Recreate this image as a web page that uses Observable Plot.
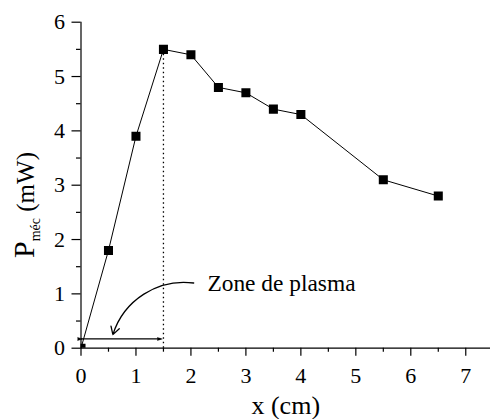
<!DOCTYPE html>
<html><head><meta charset="utf-8">
<script src="https://cdn.jsdelivr.net/npm/d3@7"></script>
<script src="https://cdn.jsdelivr.net/npm/@observablehq/plot@0.6"></script>
<style>body{margin:0;background:#fff} svg{display:block} svg text{font-family:"Liberation Serif", serif !important}</style>
</head><body><div id="chart"></div>
<script>
const xValues = [0, 0.5, 1, 1.5, 2, 2.5, 3, 3.5, 4, 5.5, 6.5];
const pValues = [0, 1.8, 3.9, 5.5, 5.4, 4.8, 4.7, 4.4, 4.3, 3.1, 2.8];
const xTicks = [0, 1, 2, 3, 4, 5, 6, 7];
const xMinorTicks = [0.5, 1.5, 2.5, 3.5, 4.5, 5.5, 6.5];
const yTicks = [0, 1, 2, 3, 4, 5, 6];
const yMinorTicks = [0.5, 1.5, 2.5, 3.5, 4.5, 5.5];
const plasmaEnd = [1.5, 5.5];
const plasmaSpan = [0, 1.45, 0.17];
const noteText = ["Zone de plasma"];
const notePos = [2.3, 1.19];
const curveArrow = [2.05, 1.2, 0.58, 0.25];

const data = xValues.map((x, i) => ({x, y: pValues[i]}));
const font = "Liberation Serif";
const fmt = d3.format("d");

const plot = Plot.plot({
  width: 491,
  height: 419,
  marginLeft: 80.5,
  marginRight: 1,
  marginTop: 21.7,
  marginBottom: 71.3,
  style: {fontFamily: font, background: "white", color: "black", overflow: "visible"},
  x: {domain: [0, 7.45]},
  y: {domain: [0, 6]},
  marks: [
    Plot.ruleY([0], {stroke: "black", strokeWidth: 1.2}),
    Plot.ruleX([0], {y1: 0, y2: 6, stroke: "black", strokeWidth: 1.2}),
    Plot.axisX(xTicks, {tickSize: 8, tickPadding: 11, fontSize: 22, fontFamily: font, tickFormat: fmt, label: null, strokeWidth: 1.2}),
    Plot.axisX(xMinorTicks, {tickSize: 4, tickFormat: () => "", label: null, strokeWidth: 1.2}),
    Plot.axisY(yTicks, {tickSize: 9, tickPadding: 7, fontSize: 22, fontFamily: font, tickFormat: fmt, label: null, strokeWidth: 1.2}),
    Plot.axisY(yMinorTicks, {tickSize: 4.5, tickFormat: () => "", label: null, strokeWidth: 1.2}),
    Plot.text(["x (cm)"], {frameAnchor: "bottom", dy: 66, fontSize: 26, fontFamily: font, fill: "black"}),
    Plot.ruleX([plasmaEnd[0]], {y1: 0, y2: plasmaEnd[1], stroke: "black", strokeWidth: 1.3, strokeDasharray: "1.5,3"}),
    Plot.line(data, {x: "x", y: "y", stroke: "black", strokeWidth: 1}),
    Plot.dot(data, {x: "x", y: "y", symbol: "square", r: 5.1, fill: "black", stroke: "none", clip: true}),
    Plot.link([plasmaSpan], {x1: d => d[0], x2: d => d[1], y1: d => d[2], y2: d => d[2], stroke: "black", strokeWidth: 1.2, markerStart: "arrow", markerEnd: "arrow"}),
    Plot.arrow([curveArrow], {x1: d => d[0], y1: d => d[1], x2: d => d[2], y2: d => d[3], bend: -40, stroke: "black", strokeWidth: 1.3, headLength: 10}),
    Plot.text(noteText, {x: notePos[0], y: notePos[1], textAnchor: "start", fontSize: 23.4, fontFamily: font, fill: "black"})
  ]
});

const svg = d3.select(plot);
// filled, narrow arrowheads like the original
svg.selectAll("marker path")
  .attr("d", "M-4,-1.8L2,0L-4,1.8Z")
  .attr("fill", "black")
  .attr("stroke", "black")
  .attr("stroke-width", 0.5);

const lbl = svg.append("text")
  .attr("transform", "translate(34,205) rotate(-90)")
  .attr("text-anchor", "middle")
  .attr("fill", "black");
lbl.append("tspan").attr("font-size", 30).text("P");
lbl.append("tspan").attr("font-size", 14).attr("dy", 6).text("méc");
lbl.append("tspan").attr("font-size", 25).attr("dy", -6).text("\u00a0(mW)");

document.getElementById("chart").appendChild(plot);
</script>
</body></html>
